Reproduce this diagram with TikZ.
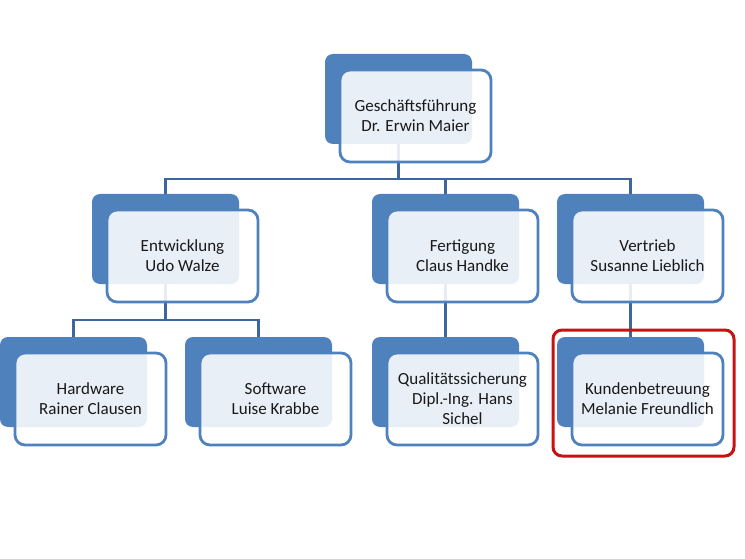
\documentclass[tikz,border=0pt]{standalone}
\usepackage{fontspec}
\setmainfont{Carlito}
\usepackage{tikz}
\usetikzlibrary{positioning,calc}
\definecolor{orgblue}{RGB}{79,129,189}
\definecolor{linkblue}{RGB}{62,102,158}
\definecolor{markred}{RGB}{200,18,18}
\definecolor{txtgray}{RGB}{25,25,25}

\begin{document}
\begin{tikzpicture}[x=1pt, y=1pt,
    back/.style={rectangle, rounded corners=8pt, fill=orgblue, minimum width=147pt, minimum height=90pt, inner sep=0pt, outer sep=0pt, anchor=north west},
    front/.style={rectangle, rounded corners=10pt, draw=orgblue, line width=2.8pt, fill=white, fill opacity=0.88, text opacity=1, minimum width=151pt, minimum height=92pt, outer sep=0pt, anchor=north west, align=center, text=txtgray, font=\fontsize{17}{20}\selectfont},
    link/.style={draw=linkblue, line width=2.8pt},
    redframe/.style={draw=markred, line width=3pt, rounded corners=9pt}
]
    \useasboundingbox (0,0) rectangle (745,-559);

    % back plates
    \node[back] (gfb) at (325,-54) {};
    \node[back] (entb) at (92,-194) {};
    \node[back] (fertb) at (372,-194) {};
    \node[back] (vertb) at (557,-194) {};
    \node[back] (hwb) at (0,-337) {};
    \node[back] (swb) at (185,-337) {};
    \node[back] (qsb) at (372,-337) {};
    \node[back] (kbb) at (557,-337) {};

    % connectors
    \coordinate (bus1) at (0,-179);
    \coordinate (bus2) at (0,-320);
    \draw[link] (gfb.south) -- (gfb.south |- bus1);
    \draw[link] (entb.north) |- (vertb.north |- bus1) -- (vertb.north);
    \draw[link] (fertb.north |- bus1) -- (fertb.north);
    \draw[link] (entb.south) -- (entb.south |- bus2);
    \draw[link] (hwb.north) |- (swb.north |- bus2) -- (swb.north);
    \draw[link] (fertb.south) -- (qsb.north);
    \draw[link] (vertb.south) -- (kbb.north);

    % front cards
    \node[front] (gf) at ([shift={(15,-16)}]gfb.north west) {Geschäftsführung\\Dr. Erwin Maier};
    \node[front] (ent) at ([shift={(15,-16)}]entb.north west) {Entwicklung\\Udo Walze};
    \node[front] (fert) at ([shift={(15,-16)}]fertb.north west) {Fertigung\\Claus Handke};
    \node[front] (vert) at ([shift={(15,-16)}]vertb.north west) {Vertrieb\\Susanne Lieblich};
    \node[front] (hw) at ([shift={(15,-16)}]hwb.north west) {Hardware\\Rainer Clausen};
    \node[front] (sw) at ([shift={(15,-16)}]swb.north west) {Software\\Luise Krabbe};
    \node[front] (qs) at ([shift={(15,-16)}]qsb.north west) {Qualitätssicherung\\Dipl.-Ing. Hans\\Sichel};
    \node[front] (kb) at ([shift={(15,-16)}]kbb.north west) {Kundenbetreuung\\Melanie Freundlich};

    % highlight
    \draw[redframe] ([shift={(-4,7)}]kbb.north west) rectangle ([shift={(11,-11)}]kb.south east);
\end{tikzpicture}
\end{document}
